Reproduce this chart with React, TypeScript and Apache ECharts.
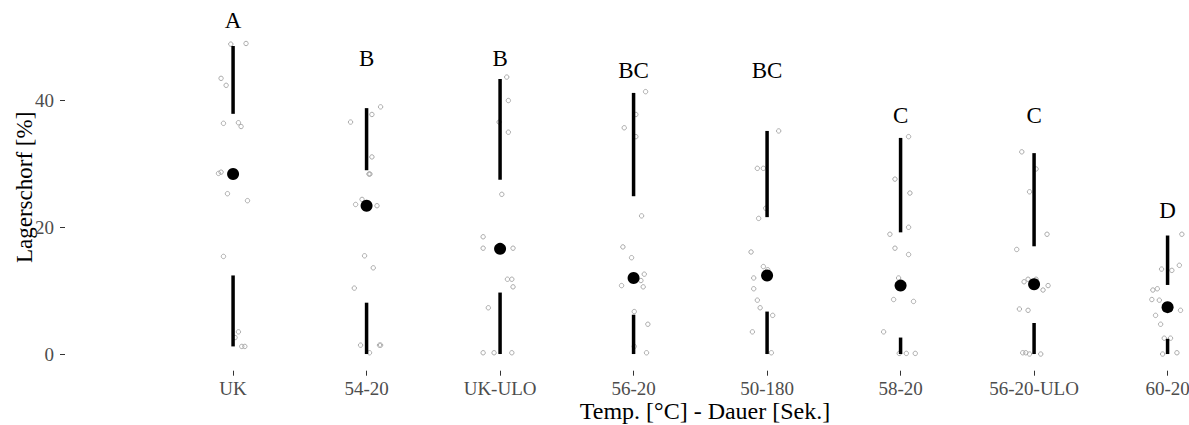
import React, { useEffect, useRef } from "react";
import * as echarts from "echarts";

const categories = ["UK", "54-20", "UK-ULO", "56-20", "50-180", "58-20", "56-20-ULO", "60-20"];
const letters = ["A", "B", "B", "BC", "BC", "C", "C", "D"];
const letterY = [52.6, 46.7, 46.7, 44.7, 44.7, 37.6, 37.6, 22.7];

const whiskerLow = [1.2, 0, 0, 0, 0, 0, 0, 0];
const q1 = [12.4, 8.1, 9.7, 6.2, 6.7, 2.6, 4.9, 2.4];
const median = [28.4, 23.4, 16.6, 12.0, 12.4, 10.8, 11.0, 7.4];
const q3 = [37.9, 29.0, 27.5, 24.9, 21.6, 19.2, 17.0, 10.9];
const whiskerHigh = [48.6, 38.8, 43.4, 41.2, 35.2, 34.1, 31.7, 18.7];

const yTicks = [0, 20, 40];

// [jitter offset (category units), value]
const pointsUK = [[-0.017, 48.9], [0.097, 49.0], [-0.09, 43.5], [-0.052, 42.4], [-0.072, 36.4], [0.04, 36.5], [0.06, 35.9], [-0.109, 28.5], [-0.09, 28.7], [-0.042, 25.3], [0.108, 24.2], [-0.072, 15.4], [0.04, 3.5], [0.015, 2.6], [0.065, 1.2], [0.088, 1.2]];
const points5420 = [[0.105, 39.0], [0.04, 37.8], [-0.12, 36.6], [0.04, 31.1], [0.018, 28.4], [0.025, 28.4], [-0.034, 24.4], [-0.082, 23.6], [0.078, 23.4], [-0.015, 15.5], [0.05, 13.6], [-0.092, 10.4], [-0.045, 1.4], [0.097, 1.4], [0.105, 1.4], [0.022, 0.2]];
const pointsUKULO = [[0.05, 43.7], [0.062, 40.0], [-0.007, 36.6], [0.062, 35.0], [0.013, 25.2], [-0.127, 18.5], [-0.127, 16.7], [0.097, 16.7], [0.055, 11.8], [0.088, 11.8], [0.097, 10.6], [-0.088, 7.3], [-0.127, 0.2], [-0.045, 0.2], [0.088, 0.2]];
const points5620 = [[0.09, 41.4], [0.017, 37.8], [-0.07, 35.7], [0.017, 34.3], [0.06, 21.8], [-0.08, 16.9], [-0.015, 15.2], [0.08, 12.6], [0.055, 11.6], [-0.09, 10.8], [0.072, 10.6], [0.005, 6.7], [0.107, 4.7], [0.005, 1.2], [0.097, 0.2]];
const points50180 = [[0.087, 35.2], [-0.073, 29.3], [-0.028, 29.3], [-0.01, 23.0], [-0.063, 21.4], [-0.12, 16.1], [-0.028, 13.8], [0.005, 13.3], [-0.1, 12.0], [-0.1, 10.3], [-0.073, 8.5], [-0.052, 7.3], [0.042, 6.1], [-0.11, 3.5], [0.032, 0.2]];
const points5820 = [[0.06, 34.3], [-0.042, 27.6], [0.07, 25.4], [0.06, 20.0], [-0.08, 18.9], [-0.042, 16.7], [0.06, 15.7], [-0.015, 12.0], [-0.052, 8.6], [0.097, 8.3], [-0.127, 3.5], [-0.01, 0.1], [0.043, 0.1], [0.11, 0.1]];
const points5620ULO = [[-0.092, 31.9], [0.015, 29.2], [-0.034, 25.6], [0.097, 18.9], [-0.13, 16.5], [-0.045, 11.8], [-0.075, 11.4], [0.015, 11.8], [0.105, 10.8], [0.067, 10.1], [-0.11, 7.1], [-0.045, 6.9], [-0.085, 0.2], [-0.062, 0.2], [-0.034, 0], [0.05, 0]];
const points6020 = [[0.107, 18.9], [0.088, 14.0], [-0.045, 13.4], [0.032, 13.2], [-0.11, 10.1], [-0.077, 10.3], [-0.118, 8.6], [-0.062, 8.5], [0.097, 6.9], [-0.09, 6.1], [-0.052, 4.7], [-0.025, 2.5], [0.022, 2.5], [-0.037, 0], [0.07, 0.2]];

const pointGroups = [pointsUK, points5420, pointsUKULO, points5620, points50180, points5820, points5620ULO, points6020];

const FONT = "Liberation Serif";

export default function App() {
  const ref = useRef<HTMLDivElement>(null);
  useEffect(() => {
    if (!ref.current) return;
    const chart = echarts.init(ref.current, undefined, { renderer: "svg" });
    const catIdx = categories.map((_, i) => i);
    const scatterData: number[][] = [];
    pointGroups.forEach((g, i) => g.forEach(([j, v]) => scatterData.push([i + j, v])));
    const boxData = categories.map((_, i) => [i, whiskerLow[i], q1[i], q3[i], whiskerHigh[i]]);
    const medianData = categories.map((_, i) => [i, median[i]]);
    const letterData = categories.map((_, i) => [i, letterY[i]]);

    chart.setOption({
      animation: false,
      backgroundColor: "#ffffff",
      textStyle: { fontFamily: FONT },
      grid: { left: 65, width: 1280, top: 4, bottom: 54.3, containLabel: false, outerBoundsMode: "none" },
      xAxis: {
        type: "value",
        min: -1.259,
        max: 8.329,
        name: "Temp. [°C] - Dauer [Sek.]",
        nameLocation: "middle",
        nameGap: 28,
        nameMoveOverlap: false,
        nameTextStyle: { fontFamily: FONT, fontSize: 24, color: "#000" },
        axisLine: { show: false, onZero: false },
        splitLine: { show: false },
        axisTick: { show: true, length: 5, lineStyle: { color: "#333", width: 1 }, customValues: catIdx },
        axisLabel: {
          customValues: catIdx,
          formatter: (v: number) => categories[Math.round(v)] ?? "",
          fontFamily: FONT,
          fontSize: 19,
          color: "#4d4d4d",
          margin: 8,
        },
      },
      yAxis: {
        type: "value",
        min: -2.63,
        max: 55.23,
        name: "Lagerschorf [%]",
        nameLocation: "middle",
        nameGap: 29,
        nameMoveOverlap: false,
        nameTextStyle: { fontFamily: FONT, fontSize: 23, color: "#000" },
        axisLine: { show: false, onZero: false },
        splitLine: { show: false },
        axisTick: { show: true, length: 5, lineStyle: { color: "#333", width: 1 }, customValues: yTicks },
        axisLabel: {
          customValues: yTicks,
          fontFamily: FONT,
          fontSize: 19,
          color: "#4d4d4d",
          margin: 11,
        },
      },
      series: [
        {
          type: "scatter",
          data: scatterData,
          symbol: "circle",
          symbolSize: 4.4,
          itemStyle: { color: "rgba(255,255,255,0)", borderColor: "#aaaaaa", borderWidth: 1, opacity: 1 },
          z: 1,
        },
        {
          type: "custom",
          data: boxData,
          encode: { x: 0, y: [1, 2, 3, 4] },
          z: 2,
          renderItem: (params: any, api: any) => {
            const x = api.value(0);
            const a = api.coord([x, api.value(1)]);
            const b = api.coord([x, api.value(2)]);
            const c = api.coord([x, api.value(3)]);
            const d = api.coord([x, api.value(4)]);
            const style = { stroke: "#000", lineWidth: 3.5, lineCap: "butt" };
            return {
              type: "group",
              children: [
                { type: "line", shape: { x1: a[0], y1: a[1], x2: b[0], y2: b[1] }, style },
                { type: "line", shape: { x1: c[0], y1: c[1], x2: d[0], y2: d[1] }, style },
              ],
            };
          },
        },
        {
          type: "scatter",
          data: medianData,
          symbol: "circle",
          symbolSize: 12,
          itemStyle: { color: "#000", opacity: 1 },
          z: 3,
        },
        {
          type: "custom",
          data: letterData,
          encode: { x: 0, y: 1 },
          z: 4,
          renderItem: (params: any, api: any) => {
            const p = api.coord([api.value(0), api.value(1)]);
            return {
              type: "text",
              x: p[0],
              y: p[1],
              style: {
                text: letters[params.dataIndex],
                fontFamily: FONT,
                fontSize: 23,
                fill: "#000",
                align: "center",
                verticalAlign: "middle",
              },
            };
          },
        },
      ],
    });
    return () => chart.dispose();
  }, []);
  return <div ref={ref} style={{ position: "fixed", left: 0, top: 0, width: 1189, height: 425 }} />;
}
